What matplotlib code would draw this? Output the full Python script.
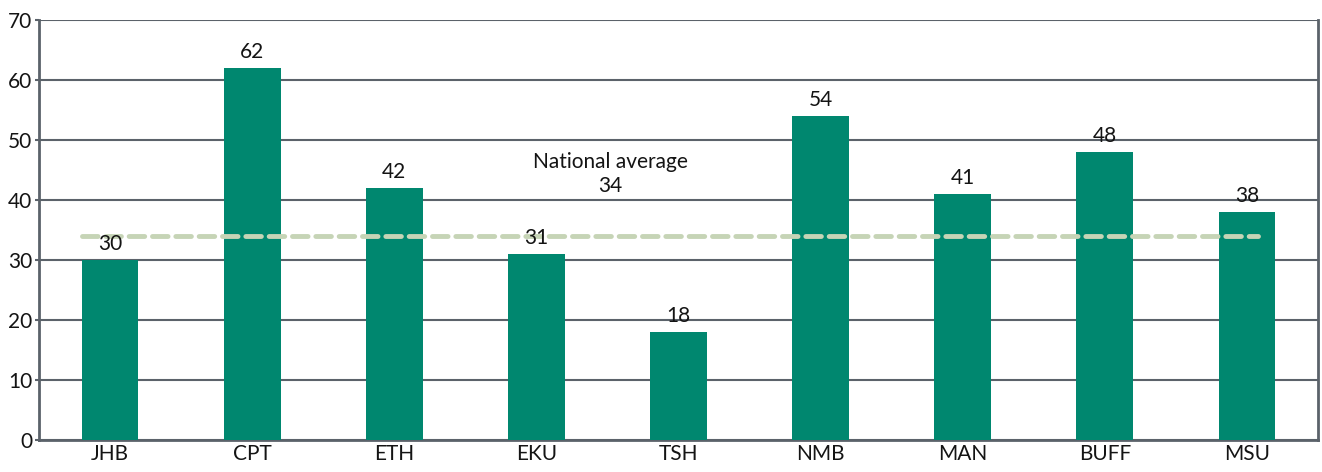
import matplotlib
matplotlib.use("Agg")
import matplotlib.pyplot as plt

plt.rcParams['font.family'] = ['Lato', 'DejaVu Sans']

# Data
cities = ["JHB", "CPT", "ETH", "EKU", "TSH", "NMB", "MAN", "BUFF", "MSU"]
values = [30, 62, 42, 31, 18, 54, 41, 48, 38]
national_average = 34
y_ticks = [0, 10, 20, 30, 40, 50, 60, 70]

bar_color = "#00876f"
avg_color = "#c6d4b6"
grid_color = "#5b626a"
text_color = "#141414"
fs = 15

fig = plt.figure(figsize=(13.22, 4.72), dpi=100)
ax = fig.add_axes([39 / 1322, 32 / 472, (1318 - 39) / 1322, (440 - 20) / 472])

x = list(range(len(cities)))
ax.bar(x, values, width=0.4, color=bar_color, zorder=3)

for xi, v in zip(x, values):
    ax.annotate(f"{v}", (xi, v), xytext=(0, 4.5), textcoords="offset points",
                ha="center", va="bottom", fontsize=fs, color=text_color, zorder=6)

# National average line
ax.plot([-0.2, 8.08], [national_average, national_average], color=avg_color,
        linewidth=3.5, dashes=(3.2, 1.6), solid_capstyle="round",
        dash_capstyle="round", zorder=4)
ax.text(3.52, 40.6, f"National average\n{national_average}", ha="center",
        va="bottom", fontsize=fs, color=text_color, linespacing=1.3, zorder=6)

ax.set_xlim(-0.5, len(cities) - 0.5)
ax.set_ylim(0, 70)
ax.set_yticks(y_ticks)
ax.set_xticks(x)
ax.set_xticklabels(cities)
ax.yaxis.grid(True, color=grid_color, linewidth=1.5, zorder=0)
ax.set_axisbelow(True)

for side in ["left", "right", "bottom"]:
    ax.spines[side].set_color(grid_color)
    ax.spines[side].set_linewidth(2)
ax.spines["top"].set_visible(False)

ax.tick_params(axis="y", length=3, width=1.5, color=grid_color, labelsize=fs,
               labelcolor=text_color, pad=2)
ax.tick_params(axis="x", length=0, labelsize=fs, labelcolor=text_color, pad=3)

fig.savefig("out.png", dpi=100, facecolor="white")
